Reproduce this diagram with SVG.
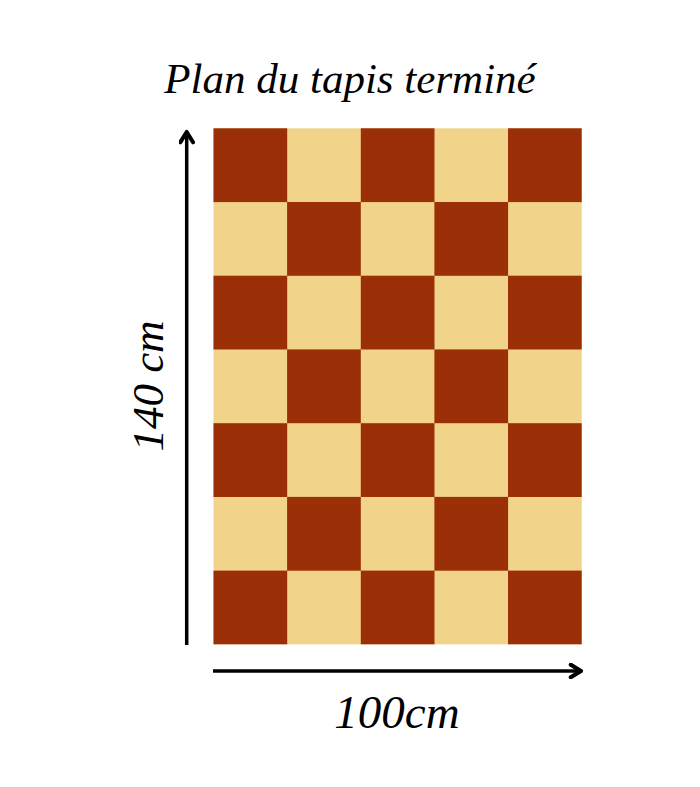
<svg xmlns="http://www.w3.org/2000/svg" width="700" height="787" viewBox="0 0 700 787">
<style>
.d{fill:#9a2f08}
.l{fill:#f1d48a}
.t{font-family:"Liberation Serif",serif;font-style:italic;fill:#000}
.ax{stroke:#000;stroke-width:3.5;fill:none}
</style>
<defs>
<marker id="ah" viewBox="0 0 10 10" refX="8" refY="5" markerWidth="4.5" markerHeight="4.5" orient="auto" markerUnits="strokeWidth">
<path d="M1.5,1 L8,5 L1.5,9" fill="none" stroke="#000" stroke-width="2.6" stroke-linecap="round" stroke-linejoin="round"/>
</marker>
</defs>
<rect width="700" height="787" fill="#fff"/>
<text class="t" x="350" y="93" font-size="43" text-anchor="middle">Plan du tapis terminé</text>
<g id="tapis">
<rect x="213.5" y="128.3" width="368.2" height="516" class="l"/>
<g class="d">
<rect x="213.5" y="128.3" width="73.7" height="73.8"/>
<rect x="360.8" y="128.3" width="73.7" height="73.8"/>
<rect x="508" y="128.3" width="73.7" height="73.8"/>
<rect x="287.1" y="202.0" width="73.7" height="73.8"/>
<rect x="434.4" y="202.0" width="73.7" height="73.8"/>
<rect x="213.5" y="275.7" width="73.7" height="73.8"/>
<rect x="360.8" y="275.7" width="73.7" height="73.8"/>
<rect x="508" y="275.7" width="73.7" height="73.8"/>
<rect x="287.1" y="349.4" width="73.7" height="73.8"/>
<rect x="434.4" y="349.4" width="73.7" height="73.8"/>
<rect x="213.5" y="423.2" width="73.7" height="73.8"/>
<rect x="360.8" y="423.2" width="73.7" height="73.8"/>
<rect x="508" y="423.2" width="73.7" height="73.8"/>
<rect x="287.1" y="496.9" width="73.7" height="73.8"/>
<rect x="434.4" y="496.9" width="73.7" height="73.8"/>
<rect x="213.5" y="570.6" width="73.7" height="73.7"/>
<rect x="360.8" y="570.6" width="73.7" height="73.7"/>
<rect x="508" y="570.6" width="73.7" height="73.7"/>
</g>
</g>
<g id="connectors">
<line class="ax" x1="186.7" y1="645" x2="186.7" y2="132" marker-end="url(#ah)"/>
<line class="ax" x1="213" y1="671" x2="581" y2="671" marker-end="url(#ah)"/>
</g>
<text class="t" x="0" y="0" font-size="45" text-anchor="middle" transform="translate(163,386) rotate(-90)">140 cm</text>
<text class="t" x="397" y="728" font-size="47" text-anchor="middle">100cm</text>
</svg>
